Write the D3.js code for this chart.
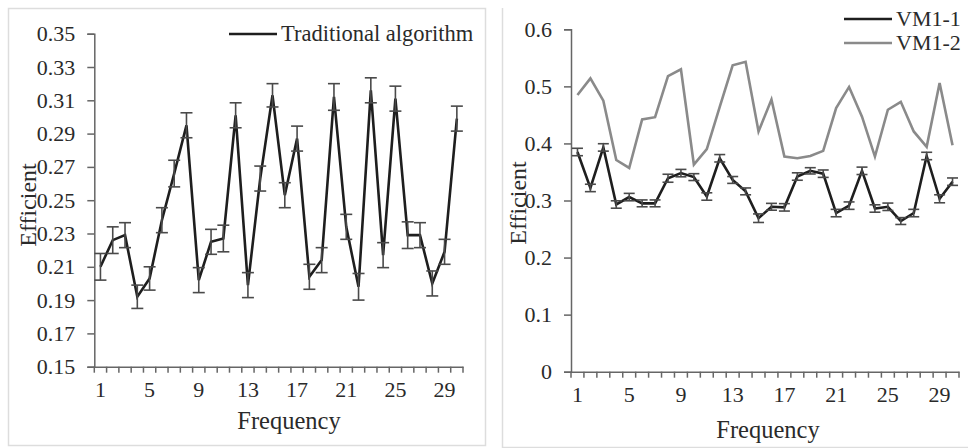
<!DOCTYPE html>
<html>
<head>
<meta charset="utf-8">
<script src="https://cdn.jsdelivr.net/npm/d3@7"></script>
<style>
  body { margin: 0; background: #fff; }
  svg { display: block; }
</style>
</head>
<body>
<svg id="chart" width="968" height="448"></svg>
<script>
// Frequency categories 1..30 shared by both panels
const frequency = d3.range(1, 31);
const xTickLabels = [1, 5, 9, 13, 17, 21, 25, 29];

// Left panel: traditional algorithm (mean and half error bar)
const traditional = [0.210, 0.226, 0.229, 0.192, 0.203, 0.238, 0.266, 0.295, 0.202, 0.225,
                     0.227, 0.301, 0.199, 0.263, 0.313, 0.253, 0.287, 0.204, 0.214, 0.312,
                     0.234, 0.198, 0.316, 0.217, 0.311, 0.229, 0.229, 0.200, 0.219, 0.299];
const traditionalErr = [0.008, 0.008, 0.0075, 0.007, 0.007, 0.0075, 0.008, 0.0075, 0.0075, 0.0075,
                        0.008, 0.0075, 0.0075, 0.0075, 0.007, 0.0075, 0.0075, 0.0075, 0.0075, 0.008,
                        0.0075, 0.008, 0.0075, 0.0075, 0.0075, 0.008, 0.0075, 0.0075, 0.0075, 0.0075];
const leftYTicks = [0.15, 0.17, 0.19, 0.21, 0.23, 0.25, 0.27, 0.29, 0.31, 0.33, 0.35];

// Right panel: VM1-1 (with error bars) and VM1-2
const vm11 = [0.385, 0.322, 0.393, 0.293, 0.306, 0.295, 0.295, 0.339, 0.348, 0.341,
              0.307, 0.374, 0.336, 0.316, 0.269, 0.289, 0.288, 0.342, 0.352, 0.347,
              0.278, 0.291, 0.352, 0.286, 0.289, 0.264, 0.278, 0.378, 0.303, 0.333];
const vm11Err = [0.0065, 0.0065, 0.0065, 0.0065, 0.0065, 0.006, 0.006, 0.007, 0.0065, 0.006,
                 0.0065, 0.0065, 0.006, 0.006, 0.0075, 0.006, 0.0065, 0.0065, 0.0055, 0.0065,
                 0.0065, 0.0065, 0.0065, 0.0065, 0.0065, 0.006, 0.0065, 0.0065, 0.007, 0.0065];
const vm12 = [0.485, 0.514, 0.475, 0.371, 0.357, 0.442, 0.446, 0.518, 0.530, 0.363,
              0.390, 0.464, 0.537, 0.543, 0.421, 0.477, 0.377, 0.374, 0.378, 0.387,
              0.462, 0.499, 0.447, 0.377, 0.459, 0.473, 0.421, 0.394, 0.506, 0.397];
const rightYTicks = [0, 0.1, 0.2, 0.3, 0.4, 0.5, 0.6];

const FONT = "'Liberation Serif', 'DejaVu Serif', 'Times New Roman', serif";
const TEXT = "#2a2a2a";
const AXIS = "#666";
const svg = d3.select("#chart");

// light panel frames
svg.append("rect").attr("x", 8.5).attr("y", 8.5).attr("width", 477).attr("height", 437)
  .attr("fill", "none").attr("stroke", "#ddd").attr("stroke-width", 1.5);
svg.append("path").attr("d", "M502.5,8 V447.5 H968")
  .attr("fill", "none").attr("stroke", "#ddd").attr("stroke-width", 1.5);

function styleText(sel, size) {
  sel.style("font-family", FONT).style("font-size", size + "px").style("fill", TEXT);
}

function panel(opts) {
  const g = svg.append("g");
  const x = d3.scaleBand().domain(frequency).range(opts.xRange).padding(0);
  const y = d3.scaleLinear().domain(opts.yDomain).range(opts.yRange);

  // y axis
  const yAxis = g.append("g")
    .attr("transform", `translate(${opts.xRange[0]},0)`)
    .call(d3.axisLeft(y).tickValues(opts.yTicks).tickSize(7).tickPadding(12).tickFormat(opts.yFormat));
  yAxis.select(".domain").attr("stroke", AXIS).attr("stroke-width", 1.5);
  yAxis.selectAll(".tick line").attr("stroke", AXIS).attr("stroke-width", 1.5);
  styleText(yAxis.selectAll(".tick text"), 22);

  // x axis: labels at category centres, tick marks between categories
  const y0 = opts.yRange[0];
  const xAxis = g.append("g")
    .attr("transform", `translate(0,${y0})`)
    .call(d3.axisBottom(x).tickValues(xTickLabels).tickSize(0).tickPadding(15).tickSizeOuter(0));
  xAxis.select(".domain").attr("stroke", AXIS).attr("stroke-width", 1.5);
  styleText(xAxis.selectAll(".tick text"), 22);
  const bounds = frequency.map(d => x(d)).concat([x.range()[1]]);
  g.append("g").selectAll("line").data(bounds).join("line")
    .attr("x1", d => d).attr("x2", d => d)
    .attr("y1", y0).attr("y2", y0 + 6)
    .attr("stroke", AXIS).attr("stroke-width", 1.5);

  const cx = d => x(d) + x.bandwidth() / 2;

  // series
  opts.series.forEach(s => {
    g.append("path")
      .datum(frequency)
      .attr("fill", "none")
      .attr("stroke", s.color)
      .attr("stroke-width", s.width)
      .attr("stroke-linejoin", "miter")
      .attr("d", d3.line().x(cx).y((d, i) => y(s.values[i])));

    if (s.err) {
      const eb = g.append("g").attr("stroke", s.errColor).attr("stroke-width", 1.6);
      frequency.forEach((d, i) => {
        const top = y(s.values[i] + s.err[i]);
        const bot = y(s.values[i] - s.err[i]);
        const c = cx(d);
        eb.append("line").attr("x1", c).attr("x2", c).attr("y1", top).attr("y2", bot);
        eb.append("line").attr("x1", c - s.cap).attr("x2", c + s.cap).attr("y1", top).attr("y2", top);
        eb.append("line").attr("x1", c - s.cap).attr("x2", c + s.cap).attr("y1", bot).attr("y2", bot);
      });
    }
  });

  // axis titles
  styleText(g.append("text")
    .attr("transform", `translate(${opts.yTitle[0]},${opts.yTitle[1]}) rotate(-90)`)
    .attr("text-anchor", "middle")
    .text("Efficient"), 24);
  styleText(g.append("text")
    .attr("x", opts.xTitle[0]).attr("y", opts.xTitle[1])
    .attr("text-anchor", "middle")
    .text("Frequency"), 24.5);

  // legend
  opts.legend.forEach(l => {
    g.append("line")
      .attr("x1", l.x).attr("x2", l.x + 48)
      .attr("y1", l.y).attr("y2", l.y)
      .attr("stroke", l.color).attr("stroke-width", 2.5);
    styleText(g.append("text")
      .attr("x", l.x + 52).attr("y", l.y + 7)
      .text(l.label), l.size);
  });
}

panel({
  xRange: [94.3, 463],
  yRange: [366.7, 33.7],
  yDomain: [0.15, 0.35],
  yTicks: leftYTicks,
  yFormat: d3.format(".2f"),
  series: [
    { values: traditional, err: traditionalErr, color: "#1e1e1e", width: 2.6, errColor: "#4a4a4a", cap: 6 }
  ],
  yTitle: [36, 205],
  xTitle: [289, 429],
  legend: [{ x: 229, y: 34, color: "#1e1e1e", label: "Traditional algorithm", size: 22.5 }]
});

panel({
  xRange: [571, 959],
  yRange: [371.7, 29.3],
  yDomain: [0, 0.6],
  yTicks: rightYTicks,
  yFormat: d => d === 0 ? "0" : d.toFixed(1),
  series: [
    { values: vm12, color: "#8a8a8a", width: 2.6 },
    { values: vm11, err: vm11Err, color: "#1e1e1e", width: 2.6, errColor: "#4a4a4a", cap: 5.5 }
  ],
  yTitle: [526, 203],
  xTitle: [768, 438],
  legend: [
    { x: 844, y: 19, color: "#1e1e1e", label: "VM1-1", size: 22 },
    { x: 844, y: 43, color: "#8a8a8a", label: "VM1-2", size: 22 }
  ]
});
</script>
</body>
</html>
